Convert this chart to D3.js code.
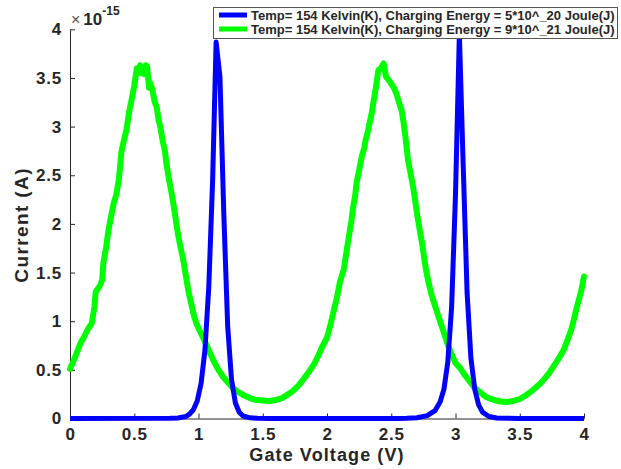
<!DOCTYPE html>
<html>
<head>
<meta charset="utf-8">
<script src="https://cdn.jsdelivr.net/npm/d3@7"></script>
<style>
  html, body { margin: 0; padding: 0; background: #fff; }
  svg { display: block; }
  text { font-family: "Liberation Sans", Arial, Helvetica, sans-serif; font-weight: bold; fill: #262626; }
</style>
</head>
<body>
<svg id="chart" width="621" height="469"></svg>
<script>
// ---- data (current in units of 1e-15 A) ----
const legendLabels = [
  "Temp= 154 Kelvin(K), Charging Energy = 5*10^_20 Joule(J)",
  "Temp= 154 Kelvin(K), Charging Energy = 9*10^_21 Joule(J)"
];
const seriesColors = ["#0000ff", "#00ff00"];

const blueX = [0, 0.78, 0.84, 0.90, 0.93, 0.96, 0.99, 1.02, 1.05, 1.08, 1.11, 1.137, 1.167, 1.197, 1.227, 1.257, 1.287, 1.317, 1.347, 1.40, 1.46, 1.55,
               2.55, 2.62, 2.70, 2.78, 2.84, 2.88, 2.91, 2.94, 2.97, 3.00, 3.03, 3.06, 3.09, 3.12, 3.15, 3.18, 3.21, 3.26, 3.32, 3.40, 3.50, 4.0];
const blueY = [0, 0.002, 0.006, 0.02, 0.045, 0.09, 0.18, 0.36, 0.70, 1.35, 2.45, 3.87, 3.51, 2.10, 0.95, 0.40, 0.16, 0.065, 0.026, 0.007, 0.002, 0,
               0, 0.002, 0.008, 0.03, 0.08, 0.17, 0.30, 0.58, 1.15, 2.30, 3.95, 2.60, 1.30, 0.62, 0.30, 0.14, 0.065, 0.02, 0.006, 0.002, 0, 0];

const greenX = [0.00, 0.03, 0.06, 0.08, 0.11, 0.14, 0.17, 0.19, 0.20, 0.23, 0.25, 0.26, 0.28, 0.30, 0.32, 0.34, 0.36, 0.38, 0.40, 0.42,
  0.44, 0.46, 0.48, 0.50, 0.52, 0.535, 0.545, 0.56, 0.575, 0.59, 0.60, 0.615, 0.625, 0.64, 0.66, 0.675, 0.69, 0.70, 0.72, 0.74,
  0.75, 0.77, 0.79, 0.81, 0.83, 0.845, 0.86, 0.88, 0.90, 0.92, 0.94, 0.96, 0.98, 1.01, 1.04, 1.08, 1.115, 1.15, 1.19, 1.23,
  1.27, 1.30, 1.35, 1.40, 1.45, 1.50, 1.55, 1.60, 1.65, 1.70, 1.74, 1.78, 1.82, 1.86, 1.90, 1.93, 1.96, 2.00, 2.03, 2.06,
  2.08, 2.10, 2.13, 2.15, 2.17, 2.19, 2.20, 2.22, 2.23, 2.25, 2.27, 2.29, 2.30, 2.32, 2.33, 2.35, 2.36, 2.38, 2.40, 2.42,
  2.44, 2.45, 2.46, 2.48, 2.50, 2.52, 2.54, 2.56, 2.58, 2.595, 2.61, 2.62, 2.63, 2.65, 2.67, 2.685, 2.70, 2.72, 2.74, 2.755,
  2.77, 2.79, 2.81, 2.83, 2.85, 2.88, 2.91, 2.94, 2.97, 3.00, 3.035, 3.07, 3.10, 3.14, 3.19, 3.24, 3.30, 3.35, 3.40, 3.45,
  3.50, 3.55, 3.60, 3.66, 3.70, 3.73, 3.76, 3.80, 3.84, 3.87, 3.90, 3.92, 3.94, 3.96, 3.98, 4.00];
const greenY = [0.51, 0.60, 0.70, 0.77, 0.84, 0.92, 0.98, 1.15, 1.30, 1.36, 1.42, 1.60, 1.75, 1.94, 2.08, 2.21, 2.30, 2.45, 2.74, 2.86,
  2.97, 3.15, 3.28, 3.42, 3.60, 3.55, 3.63, 3.55, 3.54, 3.63, 3.62, 3.40, 3.45, 3.38, 3.25, 3.20, 3.06, 3.02, 2.86, 2.74,
  2.62, 2.46, 2.32, 2.16, 1.98, 1.86, 1.76, 1.64, 1.48, 1.32, 1.20, 1.08, 0.99, 0.90, 0.82, 0.70, 0.60, 0.51, 0.43, 0.37,
  0.31, 0.28, 0.24, 0.21, 0.19, 0.185, 0.18, 0.19, 0.21, 0.25, 0.29, 0.34, 0.41, 0.48, 0.56, 0.64, 0.73, 0.83, 0.98, 1.15,
  1.26, 1.40, 1.53, 1.70, 1.87, 2.03, 2.14, 2.30, 2.42, 2.55, 2.69, 2.78, 2.86, 2.96, 3.03, 3.15, 3.24, 3.40, 3.58, 3.60,
  3.65, 3.58, 3.51, 3.48, 3.44, 3.40, 3.34, 3.25, 3.17, 3.05, 2.90, 2.78, 2.66, 2.52, 2.38, 2.25, 2.11, 1.95, 1.80, 1.66,
  1.53, 1.40, 1.29, 1.20, 1.12, 1.00, 0.88, 0.76, 0.66, 0.57, 0.52, 0.45, 0.40, 0.33, 0.27, 0.22, 0.19, 0.175, 0.17, 0.18,
  0.20, 0.24, 0.29, 0.36, 0.42, 0.47, 0.53, 0.61, 0.70, 0.80, 0.91, 1.01, 1.12, 1.22, 1.32, 1.46];

const xTicks = [0, 0.5, 1, 1.5, 2, 2.5, 3, 3.5, 4];
const xTickLabels = ["0", "0.5", "1", "1.5", "2", "2.5", "3", "3.5", "4"];
const yTicks = [0, 0.5, 1, 1.5, 2, 2.5, 3, 3.5, 4];
const yTickLabels = ["0", "0.5", "1", "1.5", "2", "2.5", "3", "3.5", "4"];
const xTitle = "Gate Voltage (V)";
const yTitle = "Current (A)";

// ---- layout ----
const svg = d3.select("#chart");
const x = d3.scaleLinear().domain([0, 4]).range([70, 584]);
const y = d3.scaleLinear().domain([0, 4]).range([418.5, 29.3]);
const axisColor = "#262626";

// axes
const gx = svg.append("g").attr("transform", `translate(0,${y(0)})`)
  .call(d3.axisBottom(x).tickValues(xTicks).tickFormat((d, i) => xTickLabels[i])
        .tickSize(-5).tickSizeOuter(0).tickPadding(9));
const gy = svg.append("g").attr("transform", `translate(${x(0)},0)`)
  .call(d3.axisLeft(y).tickValues(yTicks).tickFormat((d, i) => yTickLabels[i])
        .tickSize(-5).tickSizeOuter(0).tickPadding(8));
[gx, gy].forEach(g => {
  g.select(".domain").attr("stroke", axisColor).attr("stroke-width", 1);
  g.selectAll(".tick line").attr("stroke", axisColor).attr("stroke-width", 1);
  g.selectAll(".tick text").attr("fill", axisColor)
    .style("font-family", '"Liberation Sans", Arial, sans-serif')
    .style("font-weight", "bold").style("font-size", "17px").style("letter-spacing", "0.8px");
});

// lines
const line = d3.line().x(d => x(d[0])).y(d => y(d[1]));
const greenData = greenX.map((v, i) => [v, greenY[i]]);
const blueData = blueX.map((v, i) => [v, blueY[i]]);
svg.append("path").datum(greenData).attr("d", line)
  .attr("fill", "none").attr("stroke", seriesColors[1]).attr("stroke-width", 6)
  .attr("stroke-linejoin", "round").attr("stroke-linecap", "round");
svg.append("path").datum(blueData).attr("d", line)
  .attr("fill", "none").attr("stroke", seriesColors[0]).attr("stroke-width", 5)
  .attr("stroke-linejoin", "round").attr("stroke-linecap", "butt");

// axis titles
svg.append("text").attr("x", (x(0) + x(4)) / 2).attr("y", 461)
  .attr("text-anchor", "middle").style("font-size", "18px").style("letter-spacing", "1.1px")
  .text(xTitle);
svg.append("text").attr("transform", `translate(28,${(y(0) + y(4)) / 2 + 1}) rotate(-90)`)
  .attr("text-anchor", "middle").style("font-size", "19px").style("letter-spacing", "1.4px")
  .text(yTitle);

// exponent label
const ex = svg.append("text").attr("x", 71).attr("y", 25);
ex.append("tspan").style("font-weight", "normal").style("font-size", "16px").attr("fill", "#555").text("\u00d7");
ex.append("tspan").attr("dx", 3).style("font-size", "17px").text("10");
ex.append("tspan").attr("dy", -10).style("font-size", "12px").text("-15");

// legend
const lg = svg.append("g");
lg.append("rect").attr("x", 213.5).attr("y", 7.5).attr("width", 404).attr("height", 31)
  .attr("fill", "#fff").attr("stroke", "#555").attr("stroke-width", 1);
legendLabels.forEach((lab, i) => {
  const yy = 15 + i * 14;
  lg.append("line").attr("x1", 219).attr("x2", 247).attr("y1", yy).attr("y2", yy)
    .attr("stroke", seriesColors[i]).attr("stroke-width", 5);
  lg.append("text").attr("x", 251).attr("y", yy + 4.6).style("font-size", "13px").attr("fill", "#000").text(lab);
});
</script>
</body>
</html>
